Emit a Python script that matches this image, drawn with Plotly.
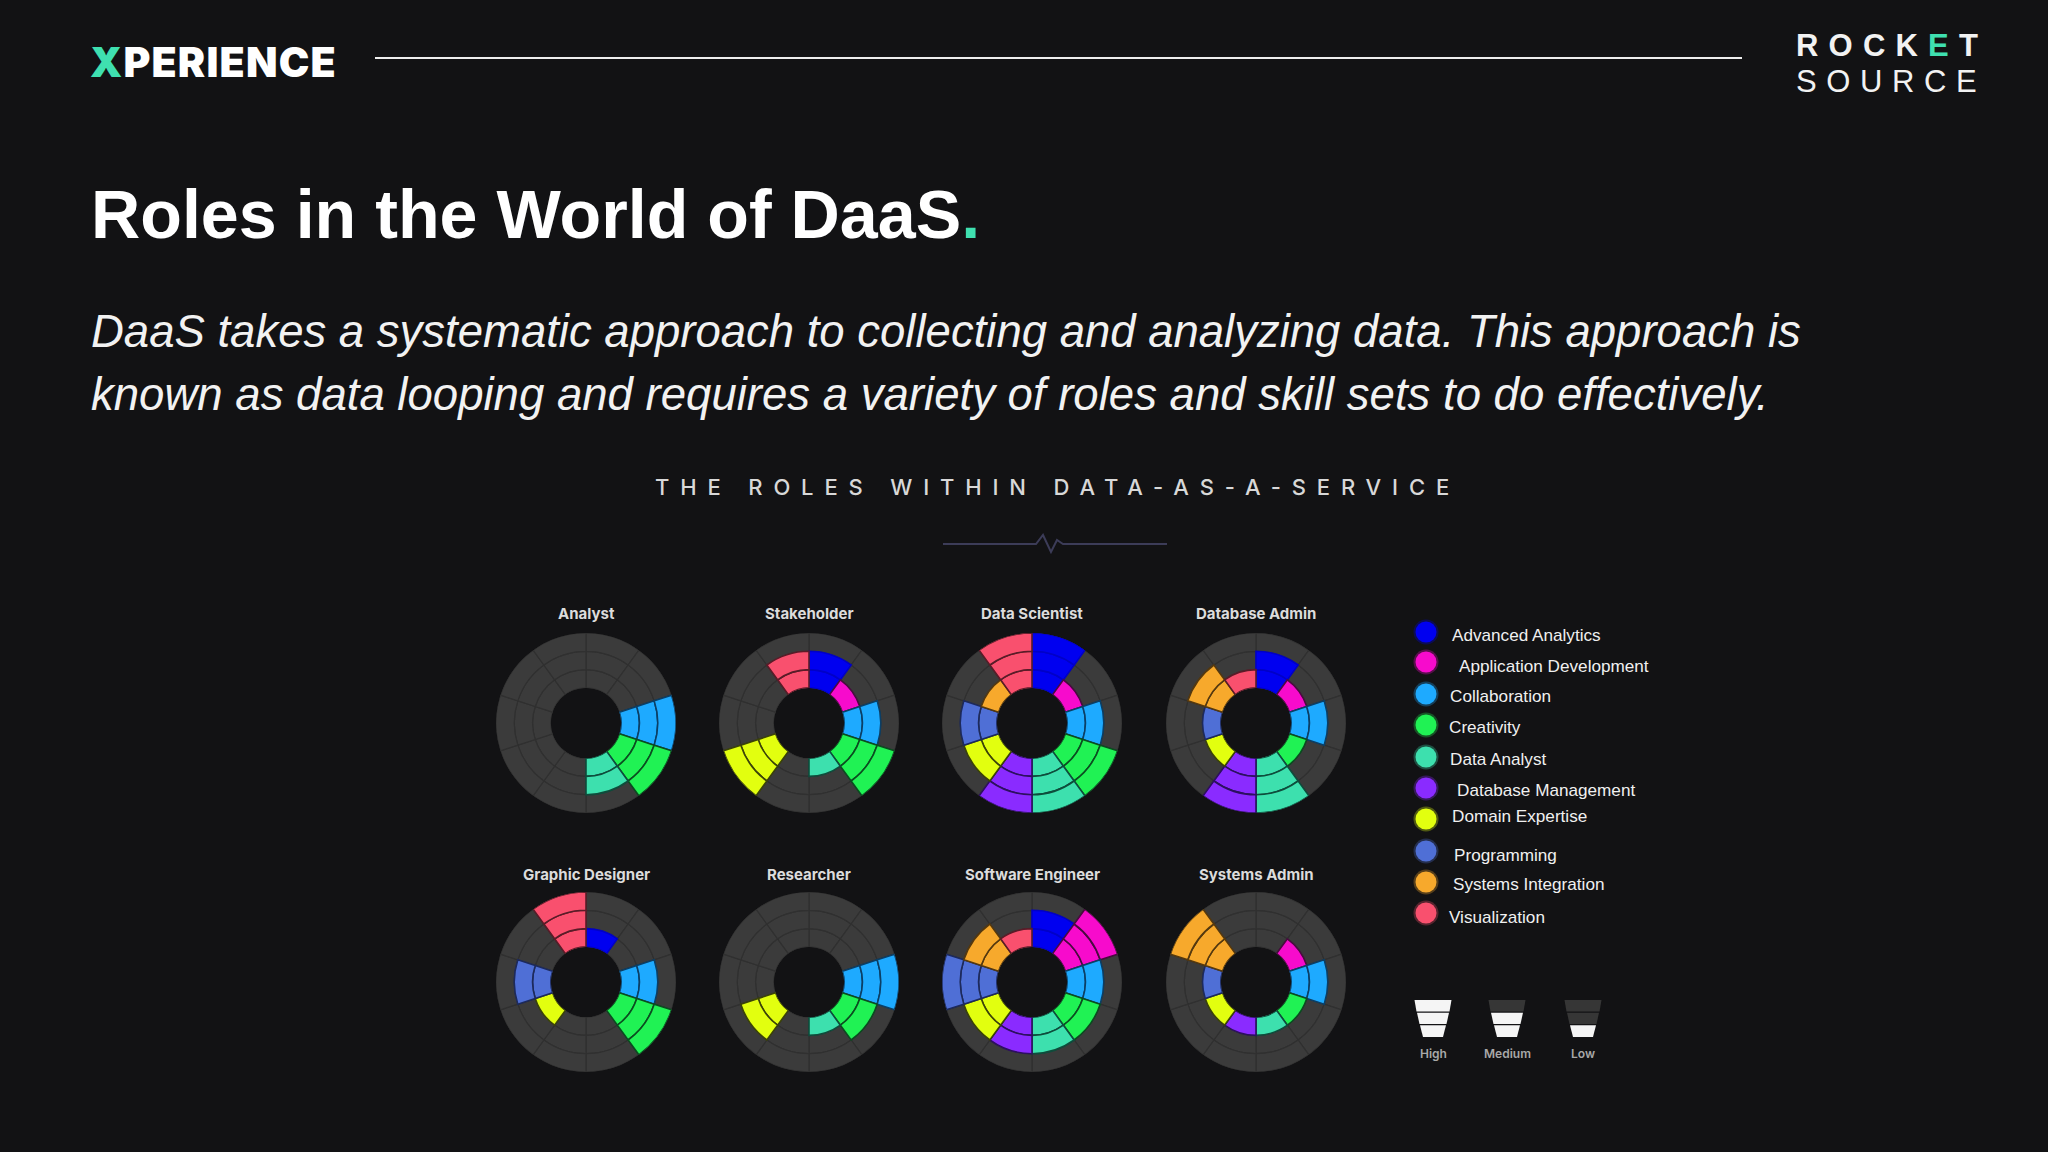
import plotly.graph_objects as go

W, H = 2048, 1152
BG = "#121214"
GREEN = "#3fe0b0"

SKILLS = ["Advanced Analytics", "Application Development", "Collaboration", "Creativity",
          "Data Analyst", "Database Management", "Domain Expertise", "Programming",
          "Systems Integration", "Visualization"]
SKILL_COLORS = ["#0000f0", "#f70bcc", "#1eaaff", "#20f254", "#3de0ae",
                "#8a2bff", "#e2ff0f", "#4f6fd6", "#f7a92c", "#f9506e"]
SKILL_EDGES = ["#0000c8", "#4a0a40", "#0b3f66", "#0b4d20", "#0e4d3c",
               "#2d1060", "#3c4408", "#1d2a5c", "#55390f", "#5a1c28"]
ROLES = ["Analyst", "Stakeholder", "Data Scientist", "Database Admin",
         "Graphic Designer", "Researcher", "Software Engineer", "Systems Admin"]
analyst = [0, 0, 3, 3, 2, 0, 0, 0, 0, 0]
stakeholder = [2, 1, 2, 3, 1, 0, 3, 0, 0, 2]
data_scientist = [3, 1, 2, 3, 3, 3, 2, 2, 1, 3]
database_admin = [2, 1, 2, 1, 3, 3, 1, 1, 2, 1]
graphic_designer = [1, 0, 2, 3, 0, 0, 1, 2, 0, 3]
researcher = [0, 0, 3, 2, 1, 0, 2, 0, 0, 0]
software_engineer = [2, 3, 2, 2, 2, 2, 2, 3, 2, 1]
systems_admin = [0, 1, 2, 1, 1, 1, 1, 1, 3, 0]
ROLE_VALUES = [analyst, stakeholder, data_scientist, database_admin,
               graphic_designer, researcher, software_engineer, systems_admin]
LEVELS = ["High", "Medium", "Low"]
LEVEL_FILLED = [3, 2, 1]

# ---- layout constants (pixels) ----
COL_X = [586, 809, 1032, 1256]
ROW_Y = [723, 982]
RADIUS = 90
TITLE_Y = [613, 874]
LEG_DOT_X = 1426
LEG_DOT_Y = [632, 662, 694, 725, 757, 788, 819, 851, 882, 913]
LEG_TXT_X = [1452, 1459, 1450, 1449, 1450, 1457, 1452, 1454, 1453, 1449]
LEG_TXT_Y = [635, 666, 696, 727, 759, 790, 816, 855, 884, 917]
FUNNEL_X = [1433, 1507, 1583]

def px(x): return x / W
def py(y): return 1 - y / H

fig = go.Figure()
ann, shp = [], []

def text(x, y, s, size, color="#ffffff", family="Liberation Sans", anchor="left", weight=None, italic=False):
    f = dict(size=size, color=color, family=family)
    if weight: f["weight"] = weight
    if italic: f["style"] = "italic"
    ann.append(dict(x=px(x), y=py(y), xref="paper", yref="paper", text=s, showarrow=False,
                    xanchor=anchor, yanchor="middle", font=f, borderpad=0, borderwidth=0))

def path(points, **kw):
    d = "M " + " L ".join(f"{px(a):.5f} {py(b):.5f}" for a, b in points)
    shp.append(dict(type="path", xref="paper", yref="paper", path=d, **kw))

def circle(x, y, r, color, opacity=1):
    shp.append(dict(type="circle", xref="paper", yref="paper", x0=px(x-r), x1=px(x+r),
                    y0=py(y+r), y1=py(y-r), fillcolor=color, opacity=opacity, line_width=0))

# ---- polar charts ----
layout_polars = {}
for i, (role, vals) in enumerate(zip(ROLES, ROLE_VALUES)):
    cx, cy = COL_X[i % 4], ROW_Y[i // 4]
    key = "polar" if i == 0 else f"polar{i+1}"
    layout_polars[key] = dict(
        domain=dict(x=[px(cx-RADIUS), px(cx+RADIUS)], y=[py(cy+RADIUS), py(cy-RADIUS)]),
        bgcolor="rgba(0,0,0,0)", hole=0.39, barmode="overlay", sector=[0, 360],
        radialaxis=dict(range=[0, 3], visible=False),
        angularaxis=dict(direction="clockwise", rotation=90, visible=False, thetaunit="degrees"),
    )
    th, base = [], []
    for lvl in range(3):
        for k in range(10):
            th.append(18 + 36*k); base.append(lvl)
    fig.add_trace(go.Barpolar(theta=th, base=base, r=[1]*30, width=[36]*30, subplot=key,
                              marker=dict(color="#3b3b3b", line=dict(color="#303030", width=1.2)),
                              showlegend=False, hoverinfo="skip"))
    th, base, cols, edges, hov = [], [], [], [], []
    for k, v in enumerate(vals):
        for lvl in range(v):
            th.append(18 + 36*k); base.append(lvl); cols.append(SKILL_COLORS[k])
            edges.append(SKILL_EDGES[k]); hov.append(SKILLS[k])
    fig.add_trace(go.Barpolar(theta=th, base=base, r=[1]*len(th), width=[36]*len(th), subplot=key,
                              marker=dict(color=cols, line=dict(color=edges, width=1.6)),
                              hovertext=hov, showlegend=False))
    text(cx, TITLE_Y[i // 4], role, 15, "#dcdcdc", "Inter", "center", weight=700)

# ---- header ----
text(90, 62, f'<span style="letter-spacing:1.2px"><span style="color:{GREEN}">X</span>PERIENCE</span>', 41, "#ffffff", "Inter", weight=900)
shp.append(dict(type="line", xref="paper", yref="paper", x0=px(375), x1=px(1742), y0=py(58), y1=py(58),
                line=dict(color="#eeeeee", width=2)))
text(1796, 45, f'<span style="letter-spacing:10.2px">ROCK<span style="color:{GREEN}">E</span>T</span>', 31, "#f2f2f2", weight=700)
text(1796, 81, '<span style="letter-spacing:9.6px">SOURCE</span>', 31, "#f2f2f2")

text(91, 214, f'Roles in the World of DaaS<span style="color:{GREEN}">.</span>', 68.2, weight=700)
text(91, 331.5, "DaaS takes a systematic approach to collecting and analyzing data. This approach is", 45.5, "#f2f2f2", italic=True)
text(91, 394.5, "known as data looping and requires a variety of roles and skill sets to do effectively.", 45.55, "#f2f2f2", italic=True)

# ---- infographic heading ----
text(1057, 487, '<span style="letter-spacing:10.85px">THE ROLES WITHIN DATA-AS-A-SERVICE</span>', 22, "#d8d8d8", "Inter", "center", weight=500)
path([(943, 544), (1036, 544), (1043, 535), (1051, 552), (1057, 540), (1063, 544), (1167, 544)],
     line=dict(color="#3c3c58", width=2))

# ---- skills legend ----
for i, s in enumerate(SKILLS):
    circle(LEG_DOT_X, LEG_DOT_Y[i], 12.5, SKILL_COLORS[i], 0.3)
    circle(LEG_DOT_X, LEG_DOT_Y[i], 10.5, SKILL_COLORS[i])
    text(LEG_TXT_X[i], LEG_TXT_Y[i], s, 17.15, "#f0f0f0")

# ---- level legend ----
for i, lv in enumerate(LEVELS):
    cx = FUNNEL_X[i]
    tiers = [(1000, 1011.5, 18.5, 16.5), (1012.8, 1024, 16, 13.5), (1025.3, 1037, 13, 10)]
    filled = LEVEL_FILLED[i]
    for t, (y0, y1, w0, w1) in enumerate(tiers):
        col = "#f5f5f5" if (3 - t) <= filled else "#363636"
        path([(cx-w0, y0), (cx+w0, y0), (cx+w1, y1), (cx-w1, y1)], fillcolor=col, line_width=0)
    text(cx, 1053, lv, 12, "#a8a8a8", "Inter", "center", weight=600)

fig.update_layout(width=W, height=H, margin=dict(l=0, r=0, t=0, b=0, pad=0),
                  paper_bgcolor=BG, plot_bgcolor=BG, showlegend=False,
                  annotations=ann, shapes=shp, **layout_polars)
fig.write_html("out.html", config={"displayModeBar": False},
               post_script=f"document.body.style.margin='0';document.body.style.background='{BG}';")
